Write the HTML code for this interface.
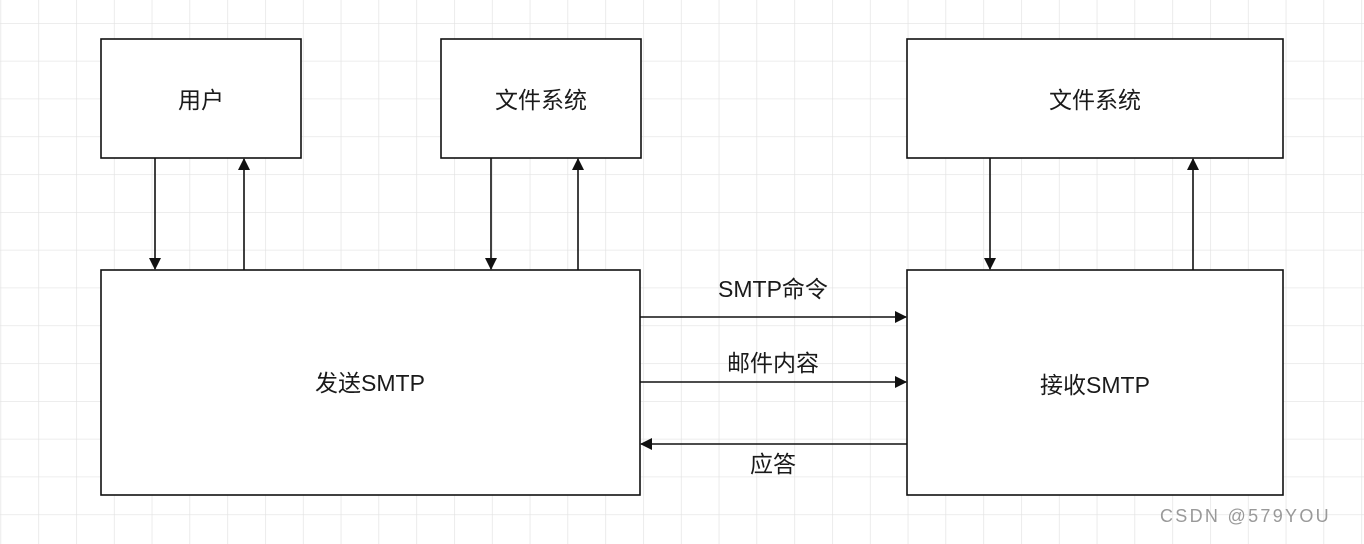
<!DOCTYPE html>
<html><head><meta charset="utf-8"><style>
body{margin:0;width:1364px;height:544px;overflow:hidden;background:#fff}
svg{display:block}
text{font-family:"Liberation Sans","Noto Sans CJK SC",sans-serif;font-size:23px;fill:#1a1a1a}
</style></head><body>
<svg width="1364" height="544" viewBox="0 0 1364 544">
<defs>
<pattern id="g" x="0.5" y="23" width="37.8" height="37.8" patternUnits="userSpaceOnUse">
<path d="M0 0H37.8M0 0V37.8" stroke="#e2e2e2" stroke-width="1.3" fill="none"/>
</pattern>
<marker id="a" markerWidth="12" markerHeight="12" refX="11" refY="6" orient="auto" markerUnits="userSpaceOnUse">
<path d="M0 0L12 6L0 12Z" fill="#111"/>
</marker>
</defs>
<rect width="1364" height="544" fill="url(#g)"/>
<g fill="#fff" stroke="#111" stroke-width="1.6">
<rect x="101" y="39" width="200" height="119"/>
<rect x="441" y="39" width="200" height="119"/>
<rect x="907" y="39" width="376" height="119"/>
<rect x="101" y="270" width="539" height="225"/>
<rect x="907" y="270" width="376" height="225"/>
</g>
<g stroke="#111" stroke-width="1.6" marker-end="url(#a)">
<line x1="155" y1="158" x2="155" y2="269"/>
<line x1="244" y1="270" x2="244" y2="159"/>
<line x1="491" y1="158" x2="491" y2="269"/>
<line x1="578" y1="270" x2="578" y2="159"/>
<line x1="990" y1="158" x2="990" y2="269"/>
<line x1="1193" y1="270" x2="1193" y2="159"/>
<line x1="640" y1="317" x2="906" y2="317"/>
<line x1="640" y1="382" x2="906" y2="382"/>
<line x1="907" y1="444" x2="641" y2="444"/>
</g>
<g text-anchor="middle">
<text x="201" y="108">用户</text>
<text x="541" y="108">文件系统</text>
<text x="1095" y="108">文件系统</text>
<text x="370" y="391">发送SMTP</text>
<text x="1095" y="393">接收SMTP</text>
<text x="773" y="297">SMTP命令</text>
<text x="773" y="371">邮件内容</text>
<text x="773" y="472">应答</text>
</g>
<text x="1160" y="522" style="font-size:18px;fill:#999;letter-spacing:2.3px">CSDN @579YOU</text>
</svg>
</body></html>
